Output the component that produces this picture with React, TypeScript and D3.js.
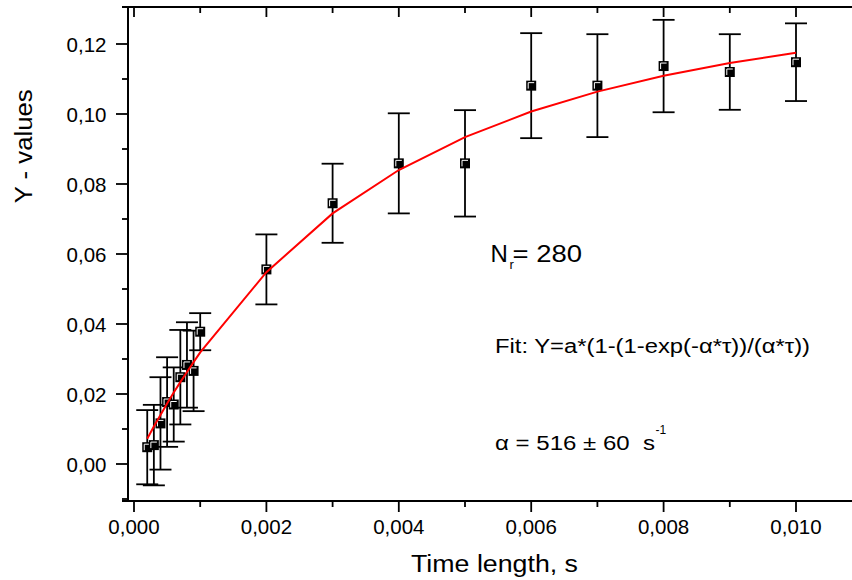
import React from "react";
import * as d3 from "d3";

const timeX = [0.0002, 0.0003, 0.0004, 0.0005, 0.0006, 0.0007, 0.0008, 0.0009, 0.001, 0.002, 0.003, 0.004, 0.005, 0.006, 0.007, 0.008, 0.009, 0.01];
const yValues = [0.0048, 0.0054, 0.0116, 0.0177, 0.017, 0.0248, 0.0283, 0.0266, 0.0378, 0.0556, 0.0745, 0.0859, 0.0859, 0.1081, 0.1081, 0.1137, 0.112, 0.1148];
const yErrors = [0.0106, 0.0115, 0.0132, 0.0128, 0.0106, 0.0135, 0.0122, 0.0115, 0.0053, 0.01, 0.0113, 0.0143, 0.0152, 0.015, 0.0147, 0.0132, 0.0108, 0.0111];
const fitValues = [0.0072, 0.0107, 0.014, 0.0173, 0.0204, 0.0234, 0.0263, 0.0291, 0.0319, 0.0548, 0.0716, 0.084, 0.0934, 0.1007, 0.1064, 0.1109, 0.1146, 0.1175];

const xMajorTicks = [0, 0.002, 0.004, 0.006, 0.008, 0.01];
const xMinorTicks = [0.001, 0.003, 0.005, 0.007, 0.009];
const yMajorTicks = [0, 0.02, 0.04, 0.06, 0.08, 0.1, 0.12];
const yMinorTicks = [-0.01, 0.01, 0.03, 0.05, 0.07, 0.09, 0.11];

const FONT = "'Liberation Sans', Arial, Helvetica, sans-serif";

export default function App() {
  const W = 852;
  const H = 580;
  const x = d3.scaleLinear().domain([0, 0.01]).range([134, 796]);
  const y = d3.scaleLinear().domain([0, 0.12]).range([464, 44]);

  const left = 128;
  const right = 852;
  const top = 7;
  const bottom = 501;

  const fmtX = (v: number) => d3.format(".3f")(v).replace(".", ",");
  const fmtY = (v: number) => d3.format(".2f")(v).replace(".", ",");

  const line = d3
    .line<number>()
    .x((_, i) => x(timeX[i]))
    .y((d) => y(d));

  const cap = 11;

  return (
    <svg
      width={W}
      height={H}
      style={{ position: "absolute", left: 0, top: 0, background: "#fff" }}
      fontFamily={FONT}
    >
      <rect x={0} y={0} width={W} height={H} fill="#fff" />
      {/* frame lines */}
      <line x1={left} x2={left} y1={top - 1} y2={bottom + 1} stroke="#000" strokeWidth={2} />
      <line x1={122} x2={right} y1={bottom} y2={bottom} stroke="#000" strokeWidth={2} />
      <line x1={122} x2={right} y1={top} y2={top} stroke="#000" strokeWidth={2} />

      {/* x ticks bottom */}
      {xMajorTicks.map((t) => (
        <g key={"xm" + t}>
          <line x1={x(t)} x2={x(t)} y1={bottom} y2={bottom + 11} stroke="#000" strokeWidth={1.8} />
          <line x1={x(t)} x2={x(t)} y1={top} y2={top + 10} stroke="#000" strokeWidth={1.8} />
          <text x={x(t)} y={534} fontSize={20.5} textAnchor="middle" fill="#000">
            {fmtX(t)}
          </text>
        </g>
      ))}
      {xMinorTicks.map((t) => (
        <g key={"xn" + t}>
          <line x1={x(t)} x2={x(t)} y1={bottom} y2={bottom + 6} stroke="#000" strokeWidth={1.8} />
          <line x1={x(t)} x2={x(t)} y1={top} y2={top + 6} stroke="#000" strokeWidth={1.8} />
        </g>
      ))}

      {/* y ticks */}
      {yMajorTicks.map((t) => (
        <g key={"ym" + t}>
          <line x1={left - 12} x2={left} y1={y(t)} y2={y(t)} stroke="#000" strokeWidth={1.8} />
          <text x={106.5} y={y(t) + 7.5} fontSize={20.5} textAnchor="end" fill="#000">
            {fmtY(t)}
          </text>
        </g>
      ))}
      {yMinorTicks.map((t) => (
        <line key={"yn" + t} x1={left - 6} x2={left} y1={y(t)} y2={y(t)} stroke="#000" strokeWidth={1.8} />
      ))}

      {/* error bars */}
      {timeX.map((t, i) => {
        const cx = x(t);
        const y1 = y(yValues[i] + yErrors[i]);
        const y2 = y(yValues[i] - yErrors[i]);
        return (
          <g key={"e" + i} stroke="#000" strokeWidth={1.8}>
            <line x1={cx} x2={cx} y1={y1} y2={y2} />
            <line x1={cx - cap} x2={cx + cap} y1={y1} y2={y1} />
            <line x1={cx - cap} x2={cx + cap} y1={y2} y2={y2} />
          </g>
        );
      })}

      {/* markers */}
      {timeX.map((t, i) => {
        const cx = x(t);
        const cy = y(yValues[i]);
        return (
          <g key={"m" + i}>
            <rect x={cx - 5} y={cy - 5} width={10} height={10} fill="#000" />
            <polyline
              points={`${cx - 3},${cy + 3} ${cx - 3},${cy - 3} ${cx + 3},${cy - 3}`}
              fill="none"
              stroke="#fff"
              strokeWidth={1}
            />
          </g>
        );
      })}

      {/* fit line */}
      <path d={line(fitValues) || ""} fill="none" stroke="#ff0000" strokeWidth={2} />

      {/* axis titles */}
      <text x={494.5} y={571.5} fontSize={23} textAnchor="middle" textLength={167} lengthAdjust="spacingAndGlyphs" fill="#000">
        Time length, s
      </text>
      <text
        transform="translate(31.5,146.3) rotate(-90)"
        fontSize={23}
        textAnchor="middle"
        textLength={114}
        lengthAdjust="spacingAndGlyphs"
        fill="#000"
      >
        Y - values
      </text>

      {/* annotations */}
      <text x={490.5} y={262} fontSize={24} fill="#000">N</text>
      <text x={509.5} y={269} fontSize={13} fill="#000">r</text>
      <text x={512.5} y={262} fontSize={24} textLength={69.5} lengthAdjust="spacingAndGlyphs" fill="#000">
        = 280
      </text>

      <text x={495} y={353} fontSize={20} textLength={315} lengthAdjust="spacingAndGlyphs" fill="#000">
        Fit: Y=a*(1-(1-exp(-α*τ))/(α*τ))
      </text>

      <text
        x={495}
        y={450}
        fontSize={20.5}
        textLength={160}
        lengthAdjust="spacingAndGlyphs"
        fill="#000"
        style={{ whiteSpace: "pre" }}
      >
        {"α = 516 ± 60  s"}
      </text>
      <text x={655.5} y={434} fontSize={12} fill="#000">-1</text>
    </svg>
  );
}
